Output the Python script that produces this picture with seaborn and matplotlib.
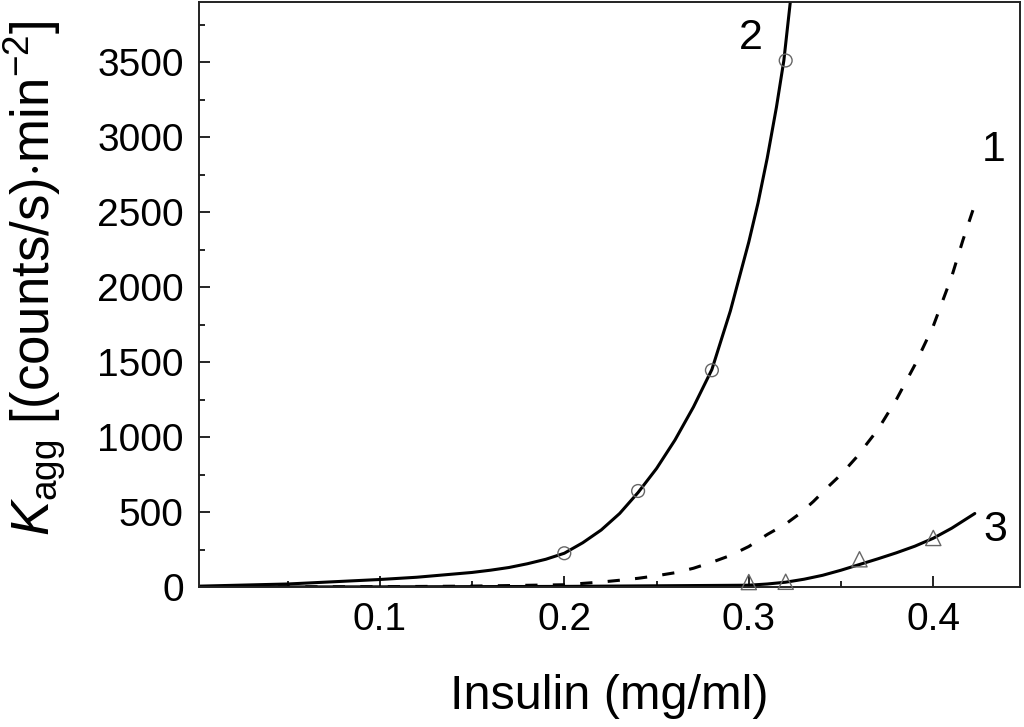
import matplotlib
matplotlib.use("Agg")
import matplotlib.pyplot as plt
import seaborn as sns
from matplotlib.ticker import MultipleLocator

# Curve 2 (solid, circles)
c2_x = [0.0, 0.05, 0.10, 0.12, 0.15, 0.16, 0.17, 0.18, 0.19, 0.20, 0.21, 0.22, 0.23, 0.24, 0.25, 0.26, 0.27, 0.28,
        0.29, 0.30, 0.305, 0.31, 0.315, 0.319, 0.3225]
c2_y = [5, 20, 50, 65, 97, 112, 130, 155, 185, 225, 295, 380, 490, 630, 790, 980, 1200, 1450,
        1840, 2300, 2560, 2860, 3200, 3510, 3900]
c2_pts_x = [0.20, 0.24, 0.28, 0.32]
c2_pts_y = [225, 640, 1445, 3510]

# Curve 1 (dashed)
c1_x = [0.0, 0.10, 0.15, 0.20, 0.22, 0.23, 0.24, 0.25, 0.26, 0.27, 0.28, 0.29, 0.30, 0.31, 0.32, 0.328, 0.335,
        0.344, 0.35, 0.358, 0.37, 0.38, 0.39, 0.40, 0.41, 0.416, 0.4225]
c1_y = [0, 2, 6, 15, 33, 45, 58, 75, 95, 125, 165, 210, 270, 350, 420, 493, 570,
        680, 750, 860, 1050, 1250, 1480, 1740, 2070, 2310, 2550]

# Curve 3 (solid, triangles)
c3_x = [0.0, 0.10, 0.20, 0.25, 0.30, 0.31, 0.32, 0.33, 0.34, 0.35, 0.36, 0.37, 0.38, 0.39, 0.40, 0.41, 0.4225]
c3_y = [0, 1, 4, 8, 12, 20, 32, 52, 78, 112, 150, 188, 228, 272, 325, 392, 490]
c3_pts_x = [0.30, 0.32, 0.36, 0.40]
c3_pts_y = [33, 35, 185, 327]

sns.set_style("ticks")
plt.rcParams['font.family'] = ['Liberation Sans', 'DejaVu Sans']
plt.rcParams['mathtext.fontset'] = 'custom'
plt.rcParams['mathtext.rm'] = 'Liberation Sans'
plt.rcParams['mathtext.it'] = 'Liberation Sans:italic'
for k in ['text.color', 'axes.labelcolor', 'xtick.color', 'ytick.color', 'axes.edgecolor']:
    plt.rcParams[k] = 'black'

fig = plt.figure(figsize=(10.24, 7.27), dpi=100)
ax = fig.add_axes([199/1024, 1-587/727, (1020-199)/1024, (587-2)/727])

lw = 2.2
sns.lineplot(x=c2_x, y=c2_y, ax=ax, color='black', lw=lw, sort=False)
sns.lineplot(x=c3_x, y=c3_y, ax=ax, color='black', lw=lw, sort=False)
sns.lineplot(x=c1_x, y=c1_y, ax=ax, color='black', lw=lw, sort=False)
ax.lines[-1].set_dashes((4.0, 5.0))

sns.scatterplot(x=c2_pts_x, y=c2_pts_y, ax=ax, marker='o', s=85,
                facecolor='none', edgecolor='#666666', linewidth=1.0, zorder=5, clip_on=False)
sns.scatterplot(x=c3_pts_x, y=c3_pts_y, ax=ax, marker='^', s=120,
                facecolor='none', edgecolor='#666666', linewidth=1.0, zorder=5, clip_on=False)

ax.set_xlim(0.002, 0.447)
ax.set_ylim(0, 3900)
ax.xaxis.set_minor_locator(MultipleLocator(0.05))
ax.yaxis.set_major_locator(MultipleLocator(500))
ax.yaxis.set_minor_locator(MultipleLocator(250))
ax.set_xticks([0.1, 0.2, 0.3, 0.4])
ax.set_xticklabels(['0.1', '0.2', '0.3', '0.4'])

ax.tick_params(which='major', direction='in', length=8, width=1.2, labelsize=28,
               top=False, right=False)
ax.tick_params(axis='y', which='major', pad=11)
ax.tick_params(axis='x', which='major', pad=11)
ax.tick_params(which='minor', direction='in', length=4, width=1.2, top=False, right=False)
for s in ax.spines.values():
    s.set_visible(True)
    s.set_linewidth(1.4)
    s.set_color('#222222')

ax.set_xlabel('Insulin (mg/ml)', fontsize=35)
ax.xaxis.set_label_coords(0.5, -0.148)
ax.set_ylabel(r'$K_{\mathrm{agg}}$ [(counts/s)$\cdot$min$^{-2}$]', fontsize=38)
ax.yaxis.set_label_coords(-0.160, 0.528)

ax.text(0.3013, 3663, '2', fontsize=31, ha='center', va='center')
ax.text(0.4325, 2913, '1', fontsize=31, ha='center', va='center')
ax.text(0.4336, 380, '3', fontsize=31, ha='center', va='center')

fig.savefig('out.png', dpi=100)
